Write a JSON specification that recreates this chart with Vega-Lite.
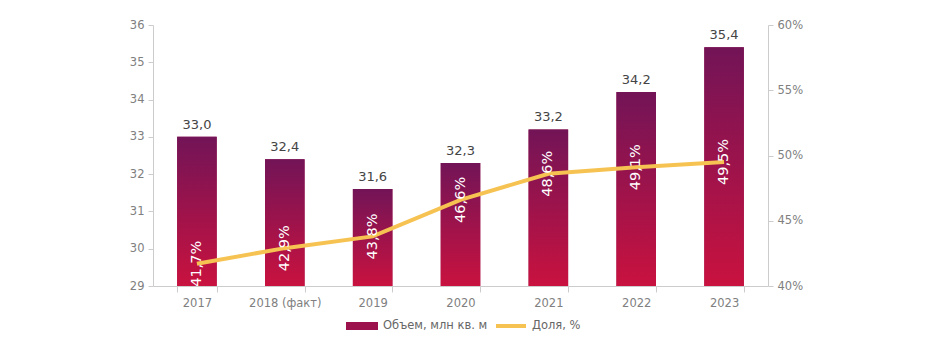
{
  "$schema": "https://vega.github.io/schema/vega-lite/v6.json",
  "width": 615,
  "height": 261,
  "autosize": "none",
  "padding": {"left": 153, "top": 25, "right": 177, "bottom": 75},
  "background": "white",
  "config": {
    "view": {"stroke": null},
    "font": "DejaVu Sans",
    "axis": {"grid": false, "domainColor": "#cccccc", "tickColor": "#cccccc", "labelColor": "#808080", "labelFontSize": 11.5, "labelFont": "DejaVu Sans", "title": null}
  },
  "data": {"values": [
    {"year": "2017", "volume": 33.0, "vlabel": "33,0", "share": 41.7, "slabel": "41,7%"},
    {"year": "2018 (факт)", "volume": 32.4, "vlabel": "32,4", "share": 42.9, "slabel": "42,9%"},
    {"year": "2019", "volume": 31.6, "vlabel": "31,6", "share": 43.8, "slabel": "43,8%"},
    {"year": "2020", "volume": 32.3, "vlabel": "32,3", "share": 46.6, "slabel": "46,6%"},
    {"year": "2021", "volume": 33.2, "vlabel": "33,2", "share": 48.6, "slabel": "48,6%"},
    {"year": "2022", "volume": 34.2, "vlabel": "34,2", "share": 49.1, "slabel": "49,1%"},
    {"year": "2023", "volume": 35.4, "vlabel": "35,4", "share": 49.5, "slabel": "49,5%"}
  ]},
  "encoding": {
    "x": {"field": "year", "type": "nominal", "sort": null,
      "scale": {"paddingInner": 0.55, "paddingOuter": 0.275},
      "axis": {"labelAngle": 0, "tickBand": "extent", "tickSize": 6, "labelPadding": 5}}
  },
  "layer": [
    {
      "encoding": {
        "y": {"field": "volume", "type": "quantitative",
          "scale": {"domain": [29, 36], "zero": false, "nice": false},
          "axis": {"orient": "left", "values": [29, 30, 31, 32, 33, 34, 35, 36], "tickSize": 5, "labelPadding": 4}}
      },
      "layer": [
        {
          "mark": {"type": "bar"},
          "encoding": {
            "y2": {"datum": 29},
            "fill": {"datum": "Объем, млн кв. м", "type": "nominal",
              "scale": {"range": ["#9c124c"]},
              "legend": {"orient": "none", "legendX": 192, "legendY": 284, "title": null,
                "symbolType": "M-1,-0.25H1V0.25H-1Z", "symbolSize": 1024, "labelFontSize": 11.5, "labelColor": "#666666", "labelOffset": 4,
                "encode": {"symbols": {"update": {"fill": {"value": {"gradient": "linear", "x1": 0, "y1": 0, "x2": 1, "y2": 0, "stops": [{"offset": 0, "color": "#6e1458"}, {"offset": 1, "color": "#cc1140"}]}}, "stroke": {"value": null}}}}}
            }
          }
        },
        {
          "mark": {"type": "bar", "fill": {"gradient": "linear", "x1": 0, "y1": 0, "x2": 0, "y2": 1, "stops": [{"offset": 0, "color": "#721457"}, {"offset": 1, "color": "#c9123f"}]}},
          "encoding": {"y2": {"datum": 29}}
        },
        {
          "mark": {"type": "text", "baseline": "bottom", "dy": -5, "fontSize": 13, "color": "#444444"},
          "encoding": {"text": {"field": "vlabel"}}
        }
      ]
    },
    {
      "encoding": {
        "y": {"field": "share", "type": "quantitative",
          "scale": {"domain": [40, 60], "zero": false, "nice": false},
          "axis": {"orient": "right", "values": [40, 45, 50, 55, 60], "labelExpr": "datum.value + '%'", "tickSize": 5, "labelPadding": 4}}
      },
      "layer": [
        {
          "mark": {"type": "line", "strokeWidth": 4},
          "encoding": {
            "stroke": {"datum": "Доля, %", "type": "nominal",
              "scale": {"range": ["#f6c352"]},
              "legend": {"orient": "none", "legendX": 341, "legendY": 284, "title": null,
                "symbolType": "stroke", "symbolSize": 900, "symbolStrokeWidth": 4, "labelFontSize": 11.5, "labelColor": "#666666", "labelOffset": 4}}
          }
        },
        {
          "mark": {"type": "text", "angle": 270, "align": "center", "baseline": "middle", "fontSize": 14.5, "color": "white"},
          "encoding": {"text": {"field": "slabel"}}
        }
      ]
    }
  ],
  "resolve": {"scale": {"y": "independent"}}
}
